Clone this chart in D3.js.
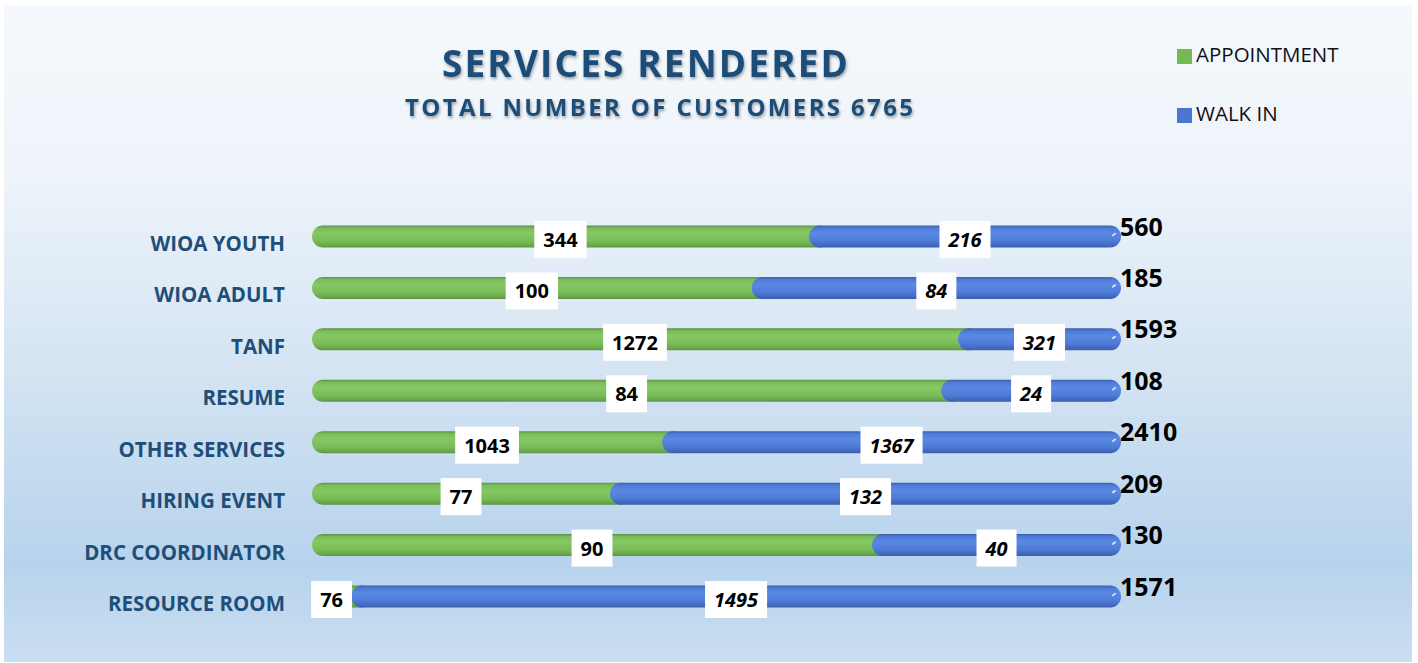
<!DOCTYPE html>
<html>
<head>
<meta charset="utf-8">
<script src="https://cdn.jsdelivr.net/npm/d3@7"></script>
<style>
  html, body { margin: 0; padding: 0; background: #fff; }
  svg { display: block; }
</style>
</head>
<body>
<div id="chart"></div>
<script>
// values
const categories = ["WIOA YOUTH", "WIOA ADULT", "TANF", "RESUME", "OTHER SERVICES", "HIRING EVENT", "DRC COORDINATOR", "RESOURCE ROOM"];
const appointment = [344, 100, 1272, 84, 1043, 77, 90, 76];
const walkIn = [216, 84, 321, 24, 1367, 132, 40, 1495];
const totals = [560, 185, 1593, 108, 2410, 209, 130, 1571];
const seriesNames = ["APPOINTMENT", "WALK IN"];
const titleText = "SERVICES RENDERED";
const subtitleText = "TOTAL NUMBER OF CUSTOMERS 6765";

const width = 1418, height = 663;
const font = "'Open Sans', 'Noto Sans', sans-serif";

let svg = d3.select("#chart").append("svg")
  .attr("width", width)
  .attr("height", height);

let defs = svg.append("defs");

// background of the chart area
let bg = defs.append("linearGradient").attr("id", "bg")
  .attr("x1", 0).attr("y1", 0).attr("x2", 0).attr("y2", 1);
[[0, "#f5f9fd"], [0.25, "#eef4fa"], [0.5, "#d9e7f4"], [0.85, "#b7d3ec"], [1, "#cadef1"]]
  .forEach(s => bg.append("stop").attr("offset", s[0]).attr("stop-color", s[1]));

// cylinder look for the bars
function barGradient(id, edge, light, mid, dark) {
  let g = defs.append("linearGradient").attr("id", id)
    .attr("x1", 0).attr("y1", 0).attr("x2", 0).attr("y2", 1);
  [[0, edge], [0.12, mid], [0.35, light], [0.7, mid], [0.92, dark], [1, edge]]
    .forEach(s => g.append("stop").attr("offset", s[0]).attr("stop-color", s[1]));
}
barGradient("gGreen", "#5e8f47", "#86c964", "#7abd58", "#68a64a");
barGradient("gBlue", "#3d5ea8", "#5a88e2", "#4d7bd8", "#4066bb");

let shadow = defs.append("filter").attr("id", "tshadow")
  .attr("x", "-5%").attr("y", "-20%").attr("width", "110%").attr("height", "160%");
shadow.append("feDropShadow")
  .attr("dx", 1).attr("dy", 2).attr("stdDeviation", 1.6)
  .attr("flood-color", "#000").attr("flood-opacity", 0.35);

svg.append("rect")
  .attr("x", 4).attr("y", 6)
  .attr("width", 1408).attr("height", 656)
  .attr("fill", "url(#bg)");

// titles
svg.append("text")
  .attr("x", 645).attr("y", 77)
  .attr("text-anchor", "middle")
  .attr("textLength", 406).attr("lengthAdjust", "spacing")
  .style("font-family", font).style("font-weight", 700)
  .style("font-size", "37px").style("fill", "#1f4e79")
  .attr("filter", "url(#tshadow)")
  .text(titleText);

svg.append("text")
  .attr("x", 659).attr("y", 116)
  .attr("text-anchor", "middle")
  .attr("textLength", 508).attr("lengthAdjust", "spacing")
  .style("font-family", font).style("font-weight", 700)
  .style("font-size", "24px").style("fill", "#1f4e79")
  .attr("filter", "url(#tshadow)")
  .text(subtitleText);

// legend
let legend = svg.append("g");
seriesNames.forEach(function(name, i) {
  let ly = 49 + i * 59;
  legend.append("rect")
    .attr("x", 1177).attr("y", ly)
    .attr("width", 15).attr("height", 15)
    .attr("fill", i === 0 ? "#74b952" : "#4a76d2");
  legend.append("text")
    .attr("x", 1196).attr("y", ly + 13)
    .style("font-family", font).style("font-size", "20.5px")
    .style("fill", "#111")
    .text(name);
});

// scales
let rows = categories.map(function(c, i) {
  return { cat: c, app: appointment[i], walk: walkIn[i], total: totals[i], share: appointment[i] / (appointment[i] + walkIn[i]) };
});

let x = d3.scaleLinear().domain([0, 1]).range([312, 1121]);
let y = d3.scalePoint().domain(categories).range([236.5, 596.5]);
let barH = 22;

// category labels
svg.append("g").selectAll("text")
  .data(rows)
  .enter().append("text")
  .attr("x", 285)
  .attr("y", d => y(d.cat) + 14.5)
  .attr("text-anchor", "end")
  .style("font-family", font).style("font-weight", 700)
  .style("font-size", "20.5px").style("fill", "#1f4e79")
  .text(d => d.cat);

// bars
let bars = svg.append("g").selectAll("g")
  .data(rows)
  .enter().append("g");

// appointment part, rounded end hidden under walk-in part
bars.append("rect")
  .attr("x", x(0))
  .attr("y", d => y(d.cat) - barH / 2)
  .attr("height", barH)
  .attr("width", d => x(d.share) - x(0) + barH)
  .attr("rx", barH / 2).attr("ry", barH / 2)
  .attr("fill", "url(#gGreen)");

bars.append("rect")
  .attr("x", d => x(d.share))
  .attr("y", d => y(d.cat) - barH / 2)
  .attr("height", barH)
  .attr("width", d => x(1) - x(d.share))
  .attr("rx", barH / 2).attr("ry", barH / 2)
  .attr("fill", "url(#gBlue)");

// small shine at the right end
bars.append("ellipse")
  .attr("cx", x(1) - 7)
  .attr("cy", d => y(d.cat) - 2)
  .attr("rx", 2.5).attr("ry", 1)
  .attr("transform", d => "rotate(-35," + (x(1) - 7) + "," + (y(d.cat) - 2) + ")")
  .attr("fill", "#dfe9ff").attr("opacity", 0.9);

// data labels in white boxes
function addLabel(g, cx, cy, txt, italic) {
  let t = g.append("text")
    .attr("x", cx).attr("y", cy + 7.5)
    .attr("text-anchor", "middle")
    .style("font-family", font).style("font-weight", 700)
    .style("font-style", italic ? "italic" : "normal")
    .style("font-size", "20px").style("fill", "#000")
    .text(txt);
  let w = t.node().getComputedTextLength() + 18;
  g.insert("rect", "text")
    .attr("x", cx - w / 2).attr("y", cy - 18.5)
    .attr("width", w).attr("height", 37)
    .attr("fill", "#fff");
}

rows.forEach(function(d) {
  let cy = y(d.cat) + 3;
  let g1 = svg.append("g");
  addLabel(g1, (x(0) + x(d.share)) / 2, cy, d.app, false);
  let g2 = svg.append("g");
  addLabel(g2, (x(d.share) + x(1)) / 2, cy, d.walk, true);
});

// totals
svg.append("g").selectAll("text")
  .data(rows)
  .enter().append("text")
  .attr("x", x(1) - 1)
  .attr("y", d => y(d.cat) - 1)
  .style("font-family", font).style("font-weight", 700)
  .style("font-size", "25px").style("fill", "#000")
  .text(d => d.total);
</script>
</body>
</html>
